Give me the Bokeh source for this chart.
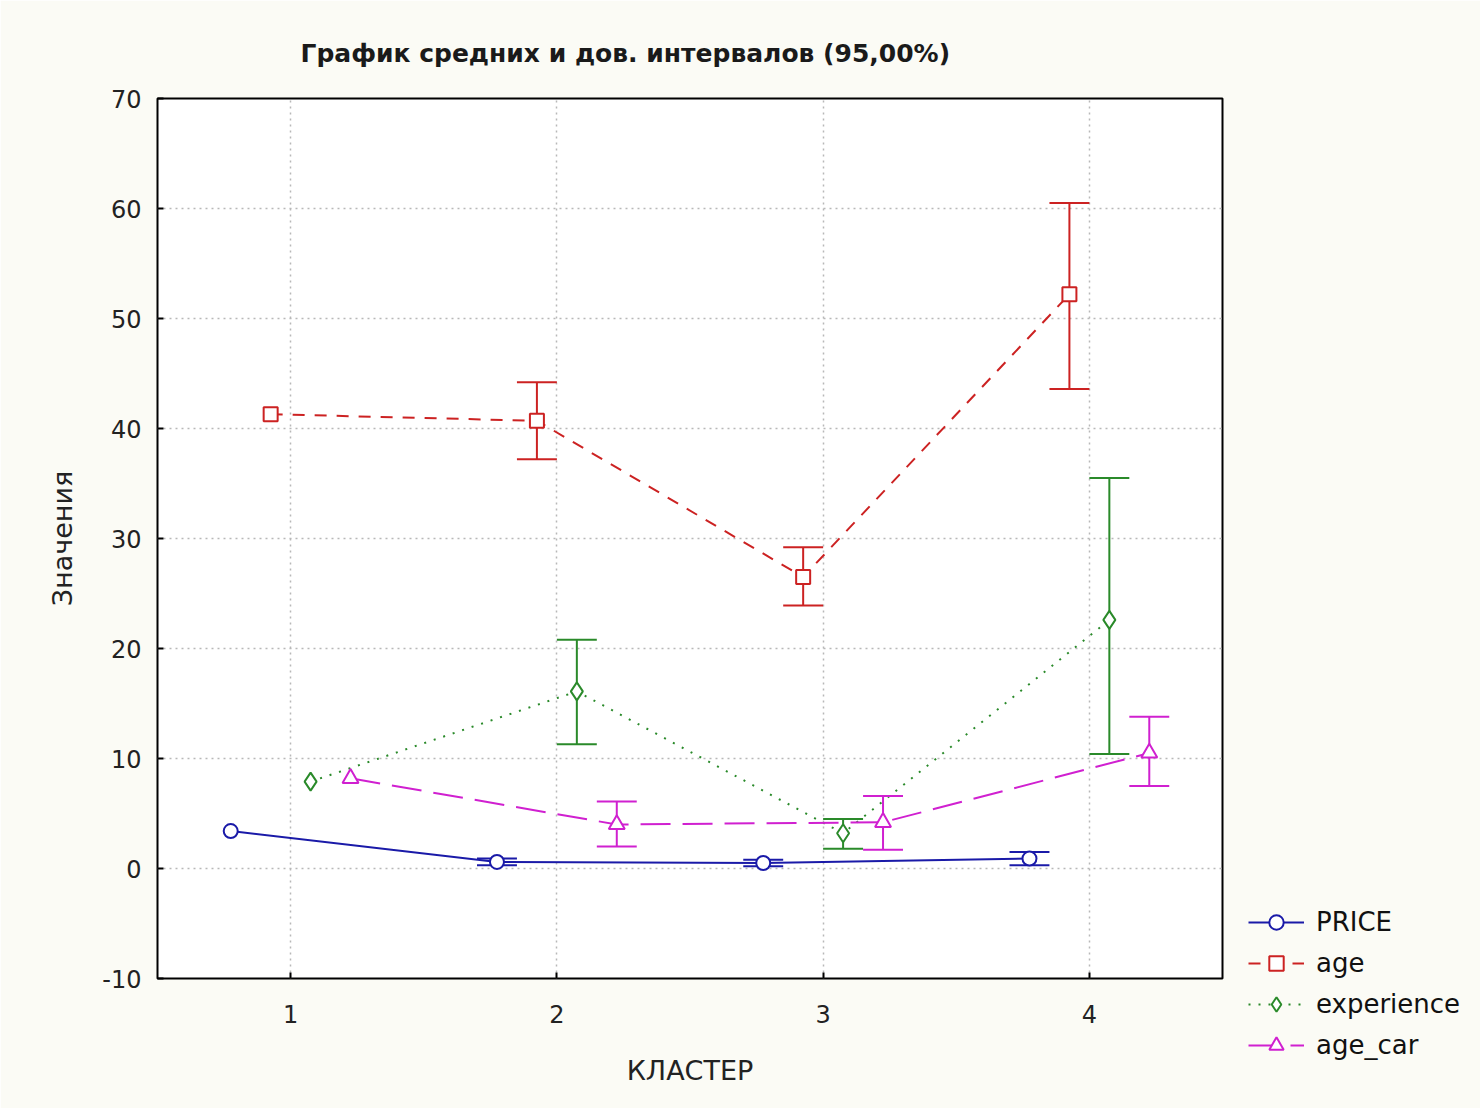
from bokeh.plotting import figure
from bokeh.models import Legend, LegendItem, Title, FixedTicker
from bokeh.embed import file_html
from bokeh.resources import INLINE

clusters = [1, 2, 3, 4]
x_ticks = [1, 2, 3, 4]
y_ticks = [-10, 0, 10, 20, 30, 40, 50, 60, 70]

series_names = ["PRICE", "age", "experience", "age_car"]

price_mean = [3.4, 0.6, 0.5, 0.9]
price_lo = [None, 0.3, 0.2, 0.3]
price_hi = [None, 0.9, 0.8, 1.5]

age_mean = [41.3, 40.7, 26.5, 52.2]
age_lo = [None, 37.2, 23.9, 43.6]
age_hi = [None, 44.2, 29.2, 60.5]

exp_mean = [7.9, 16.1, 3.2, 22.6]
exp_lo = [None, 11.3, 1.8, 10.4]
exp_hi = [None, 20.8, 4.5, 35.5]

car_mean = [8.2, 4.0, 4.2, 10.5]
car_lo = [None, 2.0, 1.7, 7.5]
car_hi = [None, 6.1, 6.6, 13.8]

FONT = "DejaVu Sans"

p = figure(frame_width=1065, frame_height=880, x_range=(0.5, 4.5), y_range=(-10, 70),
           output_backend="svg", toolbar_location=None,
           min_border_left=157, min_border_right=0, min_border_top=98, min_border_bottom=130)
p.border_fill_color = "#fbfbf5"
p.background_fill_color = "white"
p.outline_line_color = "black"
p.outline_line_width = 2

t = Title(text="График средних и  дов. интервалов (95,00%)", align="left", offset=143,
          text_font=FONT, text_font_size="25px", text_font_style="bold", text_color="#1a1a1a",
          standoff=62)
p.add_layout(t, "above")

for ax in (p.xaxis[0], p.yaxis[0]):
    ax.axis_line_color = None
    ax.major_tick_in = 6
    ax.major_tick_out = 0
    ax.minor_tick_line_color = None
    ax.major_tick_line_color = "black"
    ax.major_tick_line_width = 2
    ax.major_label_text_font = FONT
    ax.major_label_text_font_size = "24px"
    ax.major_label_text_color = "#222222"
    ax.axis_label_text_font = FONT
    ax.axis_label_text_font_size = "27px"
    ax.axis_label_text_font_style = "normal"
    ax.axis_label_text_color = "#222222"

p.xaxis.ticker = FixedTicker(ticks=x_ticks)
p.yaxis.ticker = FixedTicker(ticks=y_ticks)
p.yaxis.major_label_overrides = {-10: "-10"}
p.xaxis.axis_label = "КЛАСТЕР"
p.yaxis.axis_label = "Значения"
p.xaxis.major_label_standoff = 26
p.xaxis.axis_label_standoff = 29
p.yaxis.major_label_standoff = 16
p.yaxis.axis_label_standoff = 21

p.grid.grid_line_color = "#b8b8b8"
p.grid.grid_line_dash = "2 4"
p.grid.grid_line_width = 1.5

offsets = [-0.225, -0.075, 0.075, 0.225]
colors = ["#1a1aa8", "#cc2222", "#2a8a2a", "#d020d0"]
dashes = ["solid", "12 10", "2 8", "30 12"]
markers = ["circle", "square", "diamond", "triangle"]
msizes = [14, 14, 18, 16]
means = [price_mean, age_mean, exp_mean, car_mean]
los = [price_lo, age_lo, exp_lo, car_lo]
his = [price_hi, age_hi, exp_hi, car_hi]
CAP = 0.075

items = []
for name, off, col, dash, mk, ms, m, lo, hi in zip(series_names, offsets, colors, dashes, markers, msizes, means, los, his):
    xs = [c + off for c in clusters]
    ln = p.line(xs, m, line_color=col, line_width=2, line_dash=dash)
    ex, elo, ehi = [], [], []
    for x, a, b in zip(xs, lo, hi):
        if a is not None:
            ex.append(x); elo.append(a); ehi.append(b)
    p.segment(x0=ex, y0=elo, x1=ex, y1=ehi, line_color=col, line_width=2)
    p.segment(x0=[x - CAP for x in ex], y0=elo, x1=[x + CAP for x in ex], y1=elo, line_color=col, line_width=2)
    p.segment(x0=[x - CAP for x in ex], y0=ehi, x1=[x + CAP for x in ex], y1=ehi, line_color=col, line_width=2)
    sc = p.scatter(xs, m, marker=mk, size=ms, line_color=col, line_width=2, fill_color="white")
    items.append(LegendItem(label=name, renderers=[ln, sc]))

legend = Legend(items=items, location=(26, -85), orientation="vertical",
                label_text_font=FONT, label_text_font_size="26px", label_text_color="#111111",
                glyph_width=56, glyph_height=36, spacing=5, padding=0, margin=0,
                background_fill_alpha=0, border_line_color=None, label_standoff=12)
p.add_layout(legend, "right")

open("out.html", "w").write(file_html(p, INLINE))
